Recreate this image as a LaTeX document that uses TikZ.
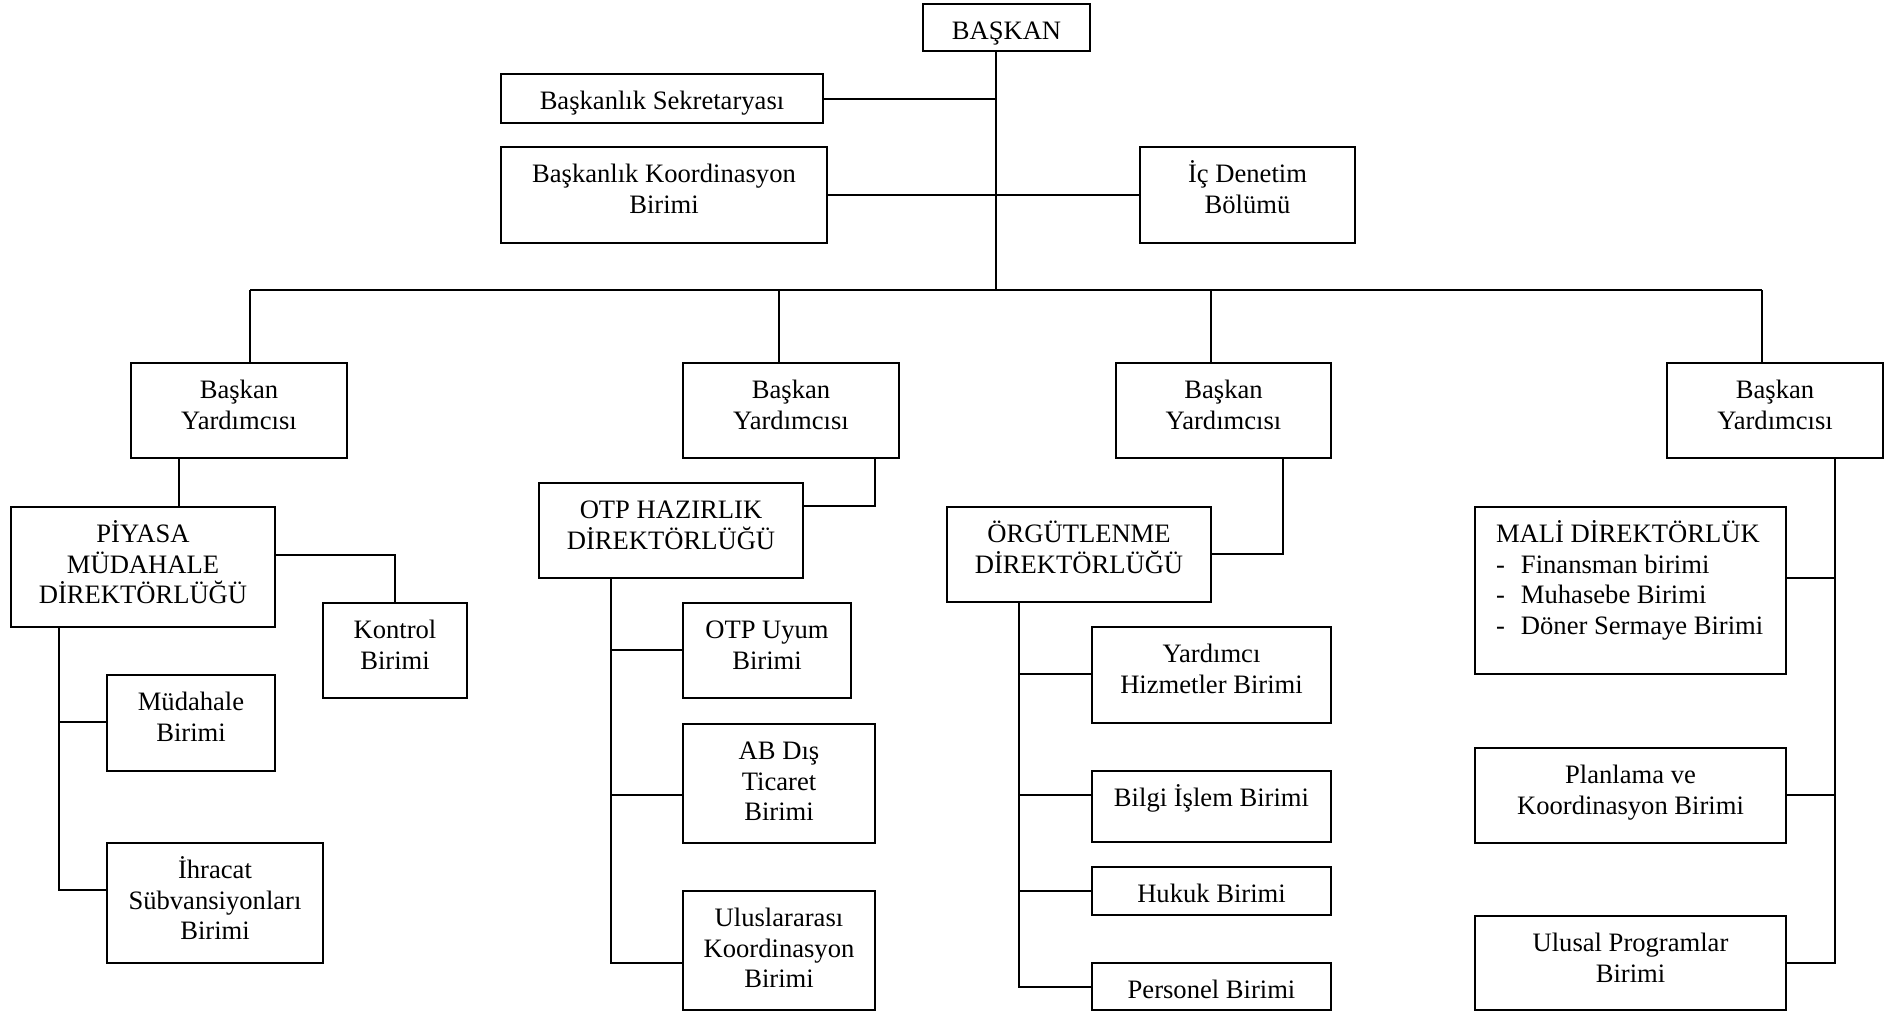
\documentclass[tikz,border=0pt]{standalone}
\usepackage{fontspec}
\setmainfont{Liberation Serif}
\newlength\pxu
\setlength\pxu{0.5pt}
% Box contents: width, height (in drawing units), text set from the top
\newcommand\boxtext[3]{\parbox[c][#2\pxu][t]{#1\pxu}{\fontsize{13.3pt}{15.4pt}\selectfont\centering\rule{0pt}{17.65pt}#3\par}}
\newcommand\listtext[3]{\parbox[c][#2\pxu][t]{#1\pxu}{\fontsize{13.3pt}{15.4pt}\selectfont\raggedright\leftskip=10.5pt\rule{0pt}{17.65pt}#3\par}}
\newcommand\dashitem[1]{\makebox[12.5pt][l]{-}#1}
\begin{document}
\begin{tikzpicture}[x=0.5pt,y=-0.5pt,
  unitbox/.style={draw, line width=1pt, inner sep=0pt, outer sep=0pt, anchor=north west, fill=white},
  wire/.style={line width=1pt, line join=miter}]
\fill[white] (0,0) rectangle (1885,1013);
\useasboundingbox (0,0) rectangle (1885,1013);

% top level
\node[unitbox] (bas) at (923,4) {\boxtext{167}{47}{BAŞKAN}};
\node[unitbox] (sek) at (501,74) {\boxtext{322}{49}{Başkanlık Sekretaryası}};
\node[unitbox] (bkb) at (501,147) {\boxtext{326}{96}{Başkanlık Koordinasyon\\Birimi}};
\node[unitbox] (ic) at (1140,147) {\boxtext{215}{96}{İç Denetim\\Bölümü}};

% vice presidents
\node[unitbox] (vp1) at (131,363) {\boxtext{216}{95}{Başkan\\Yardımcısı}};
\node[unitbox] (vp2) at (683,363) {\boxtext{216}{95}{Başkan\\Yardımcısı}};
\node[unitbox] (vp3) at (1116,363) {\boxtext{215}{95}{Başkan\\Yardımcısı}};
\node[unitbox] (vp4) at (1667,363) {\boxtext{216}{95}{Başkan\\Yardımcısı}};

% first branch
\node[unitbox] (piy) at (11,507) {\boxtext{264}{120}{PİYASA\\MÜDAHALE\\DİREKTÖRLÜĞÜ}};
\node[unitbox] (kon) at (323,603) {\boxtext{144}{95}{Kontrol\\Birimi}};
\node[unitbox] (mud) at (107,675) {\boxtext{168}{96}{Müdahale\\Birimi}};
\node[unitbox] (ihr) at (107,843) {\boxtext{216}{120}{İhracat\\Sübvansiyonları\\Birimi}};

% second branch
\node[unitbox] (otp) at (539,483) {\boxtext{264}{95}{OTP HAZIRLIK\\DİREKTÖRLÜĞÜ}};
\node[unitbox] (uyum) at (683,603) {\boxtext{168}{95}{OTP Uyum\\Birimi}};
\node[unitbox] (ab) at (683,724) {\boxtext{192}{119}{AB Dış\\Ticaret\\Birimi}};
\node[unitbox] (ulus) at (683,891) {\boxtext{192}{119}{Uluslararası\\Koordinasyon\\Birimi}};

% third branch
\node[unitbox] (org) at (947,507) {\boxtext{264}{95}{ÖRGÜTLENME\\DİREKTÖRLÜĞÜ}};
\node[unitbox] (yard) at (1092,627) {\boxtext{239}{96}{Yardımcı\\Hizmetler Birimi}};
\node[unitbox] (bilgi) at (1092,771) {\boxtext{239}{71}{Bilgi İşlem Birimi}};
\node[unitbox] (hukuk) at (1092,867) {\boxtext{239}{48}{Hukuk Birimi}};
\node[unitbox] (pers) at (1092,963) {\boxtext{239}{47}{Personel Birimi}};

% fourth branch
\node[unitbox] (mali) at (1475,507) {\listtext{311}{167}{MALİ DİREKTÖRLÜK\\\dashitem{Finansman birimi}\\\dashitem{Muhasebe Birimi}\\\dashitem{Döner Sermaye Birimi}}};
\node[unitbox] (plan) at (1475,748) {\boxtext{311}{95}{Planlama ve\\Koordinasyon Birimi}};
\node[unitbox] (ulusal) at (1475,916) {\boxtext{311}{94}{Ulusal Programlar\\Birimi}};

% trunk and bus
\coordinate (trunk) at (995.5,290);
\coordinate (busL) at (250,290);
\coordinate (d2) at (779,290);
\coordinate (d3) at (1211,290);
\coordinate (busR) at (1762,290);
\draw[wire] (bas.south -| trunk) -- (trunk);
\draw[wire] (sek.east) -- (sek.east -| trunk);
\draw[wire] (bkb.east) -- (ic.west);
\draw[wire] (busL) -- (busR);
\draw[wire] (busL) -- (busL |- vp1.north);
\draw[wire] (d2) -- (d2 |- vp2.north);
\draw[wire] (d3) -- (d3 |- vp3.north);
\draw[wire] (busR) -- (busR |- vp4.north);

% first branch links
\coordinate (c1) at (179,0);
\coordinate (k1) at (395,555);
\coordinate (j1a) at (59,722);
\coordinate (j1b) at (59,890);
\draw[wire] (vp1.south -| c1) -- (piy.north -| c1);
\draw[wire] (piy.east |- k1) -- (k1) -- (kon.north);
\draw[wire] (piy.south -| j1b) -- (j1b) -- (ihr.west |- j1b);
\draw[wire] (j1a) -- (mud.west |- j1a);

% second branch links
\coordinate (q2) at (875,506);
\coordinate (j2a) at (611,650);
\coordinate (j2b) at (611,795);
\coordinate (j2c) at (611,963);
\draw[wire] (vp2.south -| q2) -- (q2) -- (otp.east |- q2);
\draw[wire] (otp.south -| j2c) -- (j2c) -- (ulus.west |- j2c);
\draw[wire] (j2a) -- (uyum.west |- j2a);
\draw[wire] (j2b) -- (ab.west |- j2b);

% third branch links
\coordinate (q3) at (1283,554);
\coordinate (j3a) at (1019,674);
\coordinate (j3b) at (1019,795);
\coordinate (j3c) at (1019,891);
\coordinate (j3d) at (1019,987);
\draw[wire] (vp3.south -| q3) -- (q3) -- (org.east |- q3);
\draw[wire] (org.south -| j3d) -- (j3d) -- (pers.west |- j3d);
\draw[wire] (j3a) -- (yard.west |- j3a);
\draw[wire] (j3b) -- (bilgi.west |- j3b);
\draw[wire] (j3c) -- (hukuk.west |- j3c);

% fourth branch links
\coordinate (j4a) at (1835,578);
\coordinate (j4b) at (1835,795);
\coordinate (j4c) at (1835,963);
\draw[wire] (vp4.south -| j4c) -- (j4c) -- (ulusal.east |- j4c);
\draw[wire] (j4a) -- (mali.east |- j4a);
\draw[wire] (j4b) -- (plan.east |- j4b);
\end{tikzpicture}
\end{document}
